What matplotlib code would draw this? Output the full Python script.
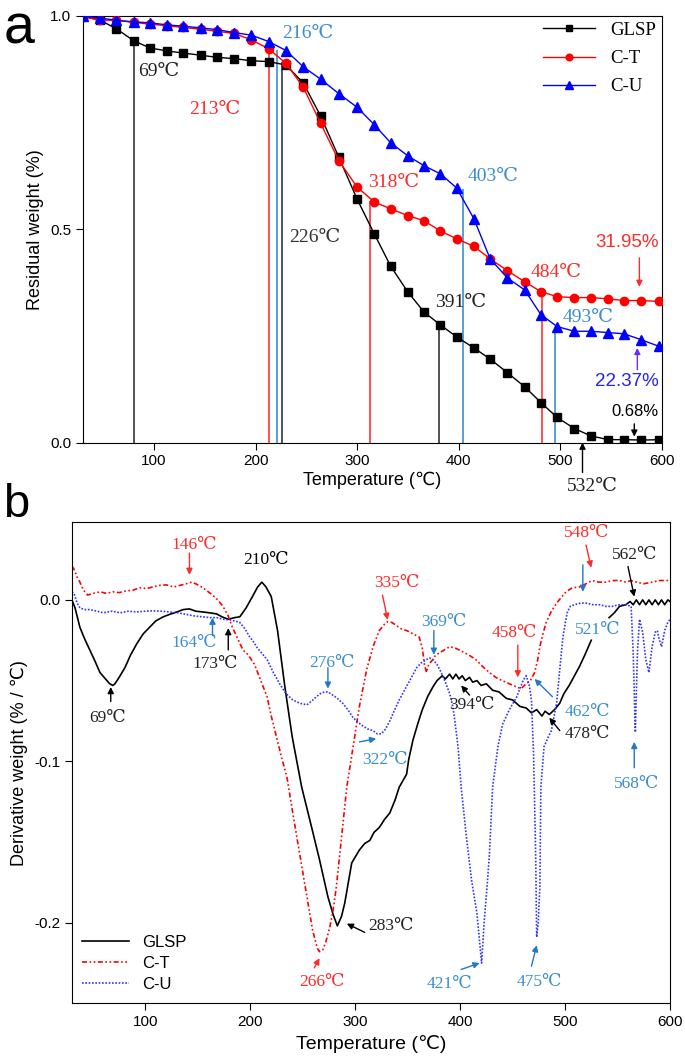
import numpy as np
import matplotlib
matplotlib.use('Agg')
import matplotlib.pyplot as plt

plt.rcParams['font.family'] = ['Liberation Sans', 'DejaVu Sans']
plt.rcParams['axes.unicode_minus'] = False
SERIF = ['Liberation Serif', 'DejaVu Serif', 'Noto Sans CJK SC']

# ---- TGA data (panel a) ----
tga_temp = [30, 47, 63, 80, 96, 113, 129, 146, 162, 179, 196, 213, 230, 247, 264, 282,
            300, 317, 333, 350, 366, 382, 398, 415, 431, 448, 465, 481, 497, 514, 530,
            547, 563, 580, 597]
tga_glsp = [1.0, 0.99, 0.97, 0.942, 0.925, 0.918, 0.913, 0.908, 0.903, 0.90, 0.895, 0.893,
            0.885, 0.843, 0.766, 0.669, 0.571, 0.489, 0.414, 0.353, 0.306, 0.276, 0.248,
            0.222, 0.196, 0.164, 0.131, 0.094, 0.059, 0.033, 0.016, 0.007, 0.007, 0.006, 0.0068]
tga_ct = [0.998, 0.99, 0.99, 0.985, 0.981, 0.977, 0.973, 0.969, 0.964, 0.959, 0.944, 0.923,
          0.889, 0.833, 0.749, 0.661, 0.599, 0.564, 0.548, 0.532, 0.52, 0.496, 0.478, 0.46,
          0.431, 0.403, 0.377, 0.354, 0.342, 0.340, 0.340, 0.337, 0.333, 0.333, 0.331]
tga_cu = [1.0, 0.995, 0.99, 0.986, 0.984, 0.979, 0.976, 0.972, 0.968, 0.961, 0.955, 0.940,
          0.919, 0.881, 0.852, 0.818, 0.786, 0.745, 0.703, 0.672, 0.649, 0.63, 0.597, 0.525,
          0.431, 0.386, 0.358, 0.30, 0.272, 0.261, 0.261, 0.258, 0.255, 0.241, 0.226]

# drop lines marking characteristic temperatures
drop_temp = [80, 213, 221, 226, 313, 381, 404, 482, 495]
drop_top = [0.942, 0.928, 0.92, 0.893, 0.566, 0.276, 0.594, 0.354, 0.272]
drop_col = ['#333333', '#ff3333', '#3a8fd0', '#333333', '#ff3333', '#333333', '#3a8fd0',
            '#ff3333', '#3a8fd0']

# ---- DTG data (panel b) ----
dtg_glsp_t = [30, 33, 37.6, 42, 47, 52, 56.7, 62, 66, 69, 71, 75, 80.5, 86, 92, 98, 104, 110,
              117, 123, 130, 136, 142, 148, 155, 161, 168, 173, 179, 185, 190, 196, 202, 207,
              211, 215, 220, 226, 233, 240, 249, 258.5, 266, 274, 279, 283, 287, 290, 296.7,
              304, 309, 314, 318, 323, 328, 333, 338, 342, 349, 351, 355, 360, 364, 369, 374,
              378, 383, 386, 390, 393, 396, 399, 402, 405, 409, 412, 416, 420, 425, 431, 437,
              444, 450, 457, 463, 468, 473, 478, 481, 485, 490, 495, 499, 504, 509, 514, 519,
              525, 533, 542, 547, 552, 558, 562, 565, 568, 571, 574, 577, 580, 583, 586, 589,
              592, 595, 598, 600]
dtg_glsp = [0.0, -0.005, -0.017, -0.024, -0.031, -0.038, -0.045, -0.049, -0.052, -0.053,
            -0.052, -0.048, -0.042, -0.034, -0.027, -0.021, -0.017, -0.013, -0.0105, -0.009,
            -0.0075, -0.006, -0.0056, -0.007, -0.0075, -0.008, -0.0087, -0.0105, -0.012,
            -0.011, -0.0105, -0.005, 0.002, 0.008, 0.011, 0.008, 0.002, -0.019, -0.054,
            -0.085, -0.116, -0.141, -0.161, -0.184, -0.195, -0.202, -0.196, -0.188, -0.163,
            -0.155, -0.151, -0.149, -0.144, -0.141, -0.136, -0.132, -0.124, -0.116, -0.108,
            -0.099, -0.087, -0.076, -0.068, -0.060, -0.054, -0.050, -0.047, -0.049, -0.046,
            -0.049, -0.046, -0.049, -0.047, -0.050, -0.048, -0.051, -0.050, -0.053, -0.052,
            -0.056, -0.057, -0.061, -0.062, -0.066, -0.067, -0.070, -0.068, -0.072, -0.069,
            -0.071, -0.068, -0.064, -0.058, -0.053, -0.047, -0.041, -0.034, -0.025, np.nan,
            -0.011, -0.008, -0.004, -0.003, -0.001, -0.003, 0.0, -0.003, 0.0, -0.003, 0.0,
            -0.003, 0.0, -0.003, 0.0, -0.003, 0.0, -0.001]

dtg_ct_t = [30, 32, 35, 37.6, 41, 45, 50, 57, 63, 69, 75, 82, 88, 95, 101, 107, 114, 120, 127,
            133, 139, 144, 148, 155, 160, 164, 169, 174, 179, 183, 188, 193, 198, 204, 210, 216,
            220, 225, 230, 235, 240.5, 247, 254, 259.5, 264, 266, 269, 272, 275.7, 279, 282,
            287, 292, 298, 304, 311, 317, 323, 328, 331, 335, 339.5, 344, 349, 355, 361, 364,
            366, 368, 370, 374, 377, 380, 385, 390, 396, 402, 408, 415, 421, 428, 434, 440,
            447, 454, 458, 463, 467, 471, 474, 476, 479, 482, 487, 492, 497, 501, 507, 514,
            520, 526, 532, 539, 545, 552, 558, 563, 568, 575, 583, 590, 598, 600]
dtg_ct = [0.021, 0.019, 0.014, 0.011, 0.006, 0.003, 0.004, 0.005, 0.004, 0.005, 0.0045, 0.0056,
          0.006, 0.0075, 0.007, 0.008, 0.009, 0.0093, 0.008, 0.009, 0.010, 0.011, 0.010, 0.0075,
          0.005, 0.003, 0.0, -0.004, -0.010, -0.017, -0.024, -0.031, -0.034, -0.040, -0.050,
          -0.060, -0.072, -0.085, -0.098, -0.110, -0.132, -0.157, -0.184, -0.205, -0.216,
          -0.218, -0.217, -0.212, -0.203, -0.192, -0.178, -0.147, -0.116, -0.091, -0.066,
          -0.043, -0.029, -0.019, -0.015, -0.0135, -0.014, -0.016, -0.018, -0.019, -0.021,
          -0.023, -0.030, -0.040, -0.045, -0.040, -0.037, -0.034, -0.033, -0.031, -0.029,
          -0.030, -0.032, -0.034, -0.037, -0.041, -0.045, -0.048, -0.050, -0.052, -0.054,
          -0.055, -0.052, -0.050, -0.045, -0.037, -0.029, -0.021, -0.014, -0.007, -0.002,
          0.002, 0.005, 0.0075, 0.008, 0.010, 0.012, 0.011, 0.011, 0.012, 0.012, 0.011, 0.012,
          0.011, 0.010, 0.011, 0.012, 0.012, 0.011]

dtg_cu_t = [30, 32, 35, 37.6, 42, 47, 54, 60, 68, 76, 84, 92, 100, 107, 115, 123, 131, 139, 147,
            155, 162, 168, 174, 180, 185, 190, 195, 199.5, 202, 207, 216, 222, 228, 234, 240.5,
            247, 254, 258, 263, 267, 271, 274, 278.6, 283, 288, 293, 298, 303, 307, 312, 317,
            321, 325, 329, 333, 337, 342, 347, 352, 358.6, 363, 368, 371, 374, 378, 382, 386,
            390, 393, 395, 398, 401, 406, 411, 416, 418, 420.5, 423, 426, 428, 431, 436, 440.5,
            447, 454, 460, 463, 466, 468, 470, 472, 473, 474.5, 476, 477, 480, 484, 487, 492,
            495, 498, 502, 505, 509, 515, 520, 527, 533, 539, 545, 552, 558, 563, 565, 567,
            569, 571, 574, 577, 580, 583, 586, 588, 590, 592, 595, 598, 600]
dtg_cu = [0.005, 0.004, -0.002, -0.005, -0.006, -0.006, -0.007, -0.008, -0.007, -0.008, -0.007,
          -0.0075, -0.007, -0.0068, -0.007, -0.0075, -0.008, -0.009, -0.010, -0.0105, -0.011,
          -0.011, -0.012, -0.0124, -0.013, -0.014, -0.018, -0.023, -0.025, -0.030, -0.037,
          -0.045, -0.052, -0.058, -0.062, -0.064, -0.065, -0.063, -0.060, -0.058, -0.057,
          -0.057, -0.059, -0.061, -0.064, -0.068, -0.073, -0.076, -0.078, -0.080, -0.081,
          -0.083, -0.083, -0.080, -0.075, -0.069, -0.062, -0.056, -0.050, -0.042, -0.039,
          -0.037, -0.036, -0.037, -0.040, -0.045, -0.051, -0.058, -0.066, -0.075, -0.091,
          -0.116, -0.147, -0.174, -0.194, -0.208, -0.225, -0.199, -0.175, -0.157, -0.116,
          -0.091, -0.077, -0.068, -0.060, -0.050, -0.047, -0.053, -0.062, -0.095, -0.157,
          -0.209, -0.200, -0.178, -0.116, -0.091, -0.085, -0.081, -0.064, -0.043, -0.023,
          -0.008, -0.004, -0.003, -0.002, -0.002, -0.003, -0.003, -0.004, -0.004, -0.003,
          -0.003, -0.004, -0.033, -0.082, -0.033, -0.012, -0.020, -0.037, -0.045, -0.029,
          -0.020, -0.019, -0.025, -0.029, -0.019, -0.014, -0.012]

RED = '#ff2a2a'
LBLUE = '#3a8fd0'
ABLUE = '#1f78c8'

fig = plt.figure(figsize=(6.85, 10.64), dpi=100)

# ================= panel a =================
ax1 = fig.add_axes([0.121, 0.584, 0.845, 0.401])
ax1.vlines(drop_temp, 0, drop_top, colors=drop_col, lw=1.2, zorder=1)
ax1.plot(tga_temp, tga_glsp, color='black', lw=1, marker='s', ms=5.5, label='GLSP', zorder=3)
ax1.plot(tga_temp, tga_ct, color='red', lw=1, marker='o', ms=6, label='C-T', zorder=3)
ax1.plot(tga_temp, tga_cu, color='blue', lw=1, marker='^', ms=7, label='C-U', zorder=3)
ax1.set_xlim(30, 600)
ax1.set_ylim(0, 1.0)
ax1.set_xticks([100, 200, 300, 400, 500, 600])
ax1.set_yticks([0.0, 0.5, 1.0])
ax1.tick_params(direction='out', length=5, labelsize=11)
ax1.set_xlabel('Temperature (℃)', fontsize=13, labelpad=2)
ax1.set_ylabel('Residual weight (%)', fontsize=13, labelpad=4)
ax1.legend(loc='upper right', frameon=False, handlelength=2.8,
           prop={'family': SERIF, 'size': 13.5}, labelspacing=0.6, borderaxespad=0.1,
           borderpad=0.2, markerscale=0.8)

tkw = dict(family=SERIF, fontsize=14, va='center', ha='left')
ax1.text(84, 0.869, '69℃', color='#222222', **tkw)
ax1.text(226, 0.96, '216℃', color=LBLUE, **tkw)
ax1.text(135, 0.78, '213℃', color=RED, **tkw)
ax1.text(233, 0.48, '226℃', color='#333333', **tkw)
ax1.text(311, 0.609, '318℃', color=RED, **tkw)
ax1.text(409, 0.623, '403℃', color=LBLUE, **tkw)
ax1.text(377, 0.328, '391℃', color='#222222', **tkw)
ax1.text(471, 0.398, '484℃', color=RED, **tkw)
ax1.text(502, 0.293, '493℃', color=LBLUE, **tkw)
ax1.text(507, -0.103, '532℃', color='#222222', clip_on=False, **tkw)
ax1.text(597, 0.468, '31.95%', color=RED, fontsize=13.5, ha='right', va='center')
ax1.text(597, 0.143, '22.37%', color='#2222ff', fontsize=13.5, ha='right', va='center')
ax1.text(597, 0.073, '0.68%', color='black', fontsize=12, ha='right', va='center')

aprops = dict(arrowstyle='-|>', lw=1, mutation_scale=9, shrinkA=0, shrinkB=0)
ax1.annotate('', xy=(578, 0.365), xytext=(578, 0.433), arrowprops=dict(color=RED, **aprops))
ax1.annotate('', xy=(576, 0.222), xytext=(576, 0.171), arrowprops=dict(color='#6a2cff', **aprops))
ax1.annotate('', xy=(573, 0.014), xytext=(573, 0.044), arrowprops=dict(color='black', **aprops))
ax1.annotate('', xy=(522, 0.0), xytext=(522, -0.07), arrowprops=dict(color='black', **aprops),
             annotation_clip=False)
fig.text(0.005, 0.997, 'a', fontsize=40, va='top', ha='left')

# ================= panel b =================
ax2 = fig.add_axes([0.105, 0.057, 0.873, 0.452])
ax2.plot(dtg_glsp_t, dtg_glsp, color='black', lw=1.2, label='GLSP')
ax2.plot(dtg_ct_t, dtg_ct, color='red', lw=1.2, ls=(0, (3, 1.5, 1, 1.5, 1, 1.5)), label='C-T')
ax2.plot(dtg_cu_t, dtg_cu, color='#3333ff', lw=1.2, ls=(0, (1, 1)), label='C-U')
ax2.set_xlim(30, 600)
ax2.set_ylim(-0.25, 0.048)
ax2.set_xticks([100, 200, 300, 400, 500, 600])
ax2.set_yticks([0.0, -0.1, -0.2])
ax2.set_yticklabels(['0.0', '-0.1', '-0.2'])
ax2.tick_params(direction='out', length=5, labelsize=11)
ax2.set_xlabel('Temperature (℃)', fontsize=14, labelpad=4)
ax2.set_ylabel('Derivative weight (% / ℃)', fontsize=13, labelpad=4)
ax2.legend(loc='lower left', frameon=False, fontsize=12, handlelength=2.8,
           labelspacing=0.35, borderaxespad=0.2, bbox_to_anchor=(0.0, 0.003))

bkw = dict(family=SERIF, fontsize=12.5, va='center', ha='center')
blabels = [
    ('146℃', 147, 0.034, RED), ('210℃', 215, 0.025, 'black'),
    ('164℃', 147, -0.027, LBLUE), ('173℃', 167, -0.040, '#222222'),
    ('69℃', 64, -0.073, '#222222'), ('276℃', 278, -0.039, LBLUE),
    ('335℃', 340, 0.0106, RED), ('369℃', 385, -0.0135, LBLUE),
    ('322℃', 328, -0.099, LBLUE), ('283℃', 334, -0.202, '#222222'),
    ('266℃', 268, -0.237, RED), ('394℃', 411, -0.065, '#222222'),
    ('458℃', 452, -0.0205, RED), ('462℃', 521, -0.0695, LBLUE),
    ('478℃', 521, -0.083, '#222222'), ('521℃', 531, -0.0186, LBLUE),
    ('548℃', 521, 0.0416, RED), ('562℃', 566, 0.028, '#222222'),
    ('568℃', 568, -0.114, LBLUE), ('421℃', 390, -0.238, LBLUE),
    ('475℃', 476, -0.237, LBLUE),
]
for s, x, y, c in blabels:
    ax2.text(x, y, s, color=c, **bkw)

barrows = [
    ((142, 0.0155), (142, 0.029), RED), ((164, -0.011), (164, -0.022), ABLUE),
    ((179, -0.0175), (179, -0.031), 'black'), ((67, -0.054), (67, -0.063), 'black'),
    ((274, -0.055), (274, -0.042), ABLUE), ((331, -0.0124), (326, 0.003), RED),
    ((375, -0.034), (375, -0.019), ABLUE), ((320, -0.086), (304, -0.088), ABLUE),
    ((292, -0.2006), (309, -0.206), 'black'), ((266, -0.222), (261, -0.228), RED),
    ((401, -0.053), (409, -0.059), 'black'), ((455, -0.048), (455, -0.028), RED),
    ((471, -0.049), (488, -0.060), ABLUE), ((485, -0.073), (495, -0.081), 'black'),
    ((517, 0.005), (517, 0.0217), ABLUE), ((525, 0.020), (520, 0.034), RED),
    ((566, 0.002), (560, 0.0207), 'black'), ((566, -0.088), (566, -0.104), ABLUE),
    ((418.6, -0.225), (401, -0.229), ABLUE), ((473, -0.214), (468, -0.227), ABLUE),
]
for tip, tail, c in barrows:
    ax2.annotate('', xy=tip, xytext=tail, arrowprops=dict(color=c, **aprops))
fig.text(0.005, 0.525, 'b', fontsize=34, va='center', ha='left')

fig.savefig('out.png', dpi=100)
